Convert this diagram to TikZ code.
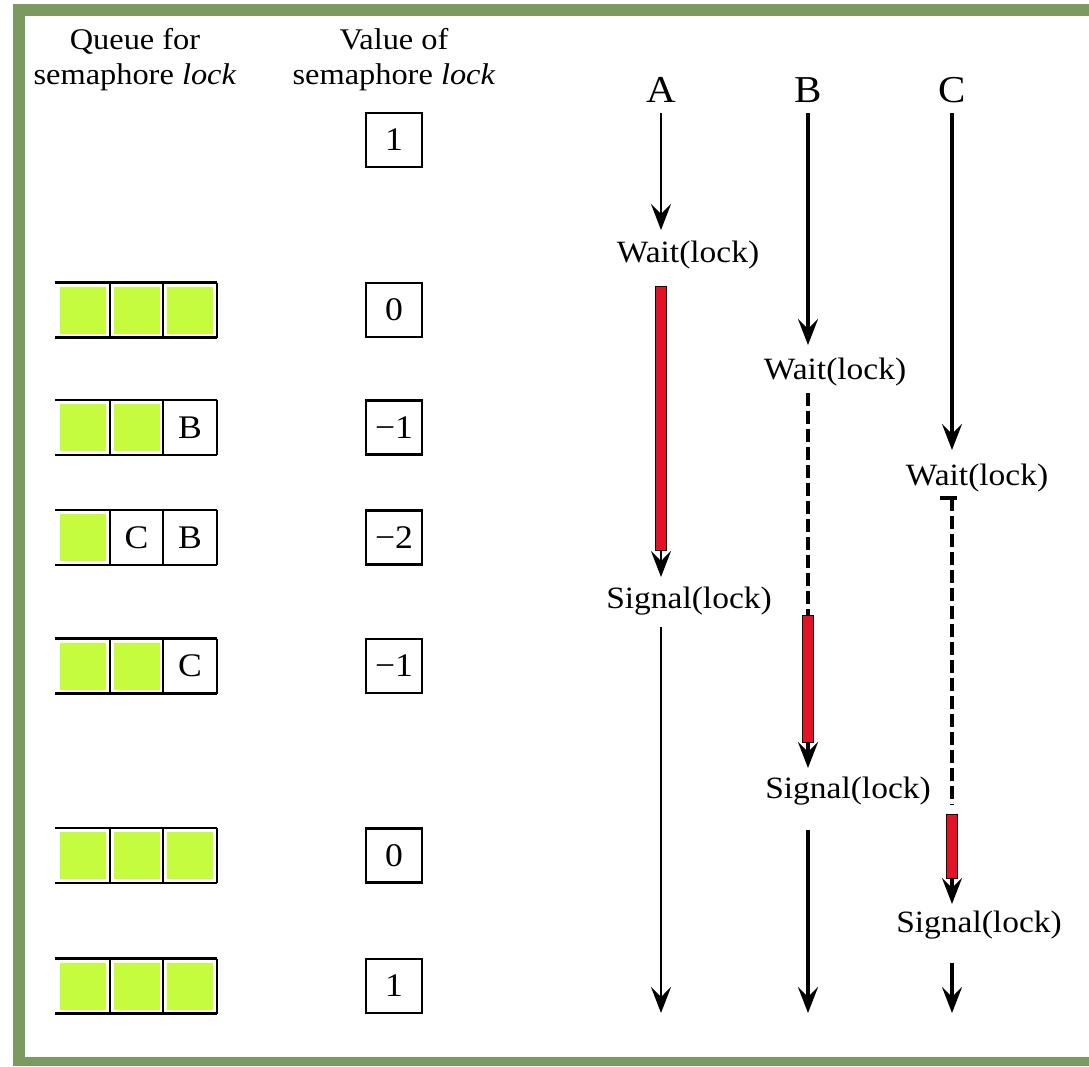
\documentclass[tikz,border=0pt]{standalone}
\usepackage{fontspec}
\setmainfont{Liberation Serif}[FakeStretch=1.08]
\usetikzlibrary{arrows.meta}
\definecolor{framegreen}{RGB}{122,154,96}
\definecolor{lime}{RGB}{198,252,62}
\definecolor{barred}{RGB}{228,18,38}
\tikzset{
  txt/.style={font=\fontsize{31}{32}\selectfont, inner sep=0pt},
  head/.style={font=\fontsize{30}{35}\selectfont, inner sep=0pt, align=center},
  proc/.style={font=\fontsize{38}{40}\selectfont, inner sep=0pt},
  valbox/.style={draw, line width=2.4pt, minimum width=56pt, minimum height=54pt, inner sep=0pt, font=\fontsize{33}{35}\selectfont},
  gcell/.style={fill=lime, minimum width=46pt, minimum height=47pt, inner sep=0pt},
  lcell/.style={inner sep=0pt, font=\fontsize{33}{35}\selectfont},
  qline/.style={line width=2.4pt},
  tip/.style={-{Stealth[length=26pt,width=20pt,inset=10pt]}},
  lineA/.style={line width=2.8pt},
  lineB/.style={line width=4pt},
  lineC/.style={line width=3.2pt},
  dashB/.style={line width=4pt, dash pattern=on 13pt off 5pt},
  dashC/.style={line width=3.4pt, dash pattern=on 13pt off 5pt},
  redbar/.style={fill=barred, draw=black, line width=1pt},
}
\newcommand\qframe[1]{%
  \draw[qline] (55,#1-27.5) -- (217,#1-27.5) (55,#1+27.5) -- (217,#1+27.5)
    (110,#1-27.5) -- (110,#1+27.5) (163,#1-27.5) -- (163,#1+27.5) (217,#1-27.5) -- (217,#1+27.5);}
\begin{document}
\begin{tikzpicture}[x=1pt,y=-1pt]
\useasboundingbox (0,0) rectangle (1089,1066);
% frame
\fill[framegreen] (13,4) rectangle (1089,16);
\fill[framegreen] (13,4) rectangle (25,1066);
\fill[framegreen] (13,1057) rectangle (1089,1066);

% headers
\node[head] (hq) at (135,60) {Queue for\\semaphore \textit{lock}};
\node[head] (hv) at (394,60) {Value of\\semaphore \textit{lock}};

% value boxes
\node[valbox] (v1) at (394,140) {1};
\node[valbox] (v2) at (394,310) {0};
\node[valbox] (v3) at (394,427.5) {−1};
\node[valbox] (v4) at (394,537.5) {−2};
\node[valbox] (v5) at (394,666) {−1};
\node[valbox] (v6) at (394,855.5) {0};
\node[valbox] (v7) at (394,986) {1};

% queues
\qframe{310}
\node[gcell] (q1a) at (82.5,310) {};
\node[gcell] (q1b) at (136.5,310) {};
\node[gcell] (q1c) at (190,310) {};
\qframe{427.5}
\node[gcell] (q2a) at (82.5,427.5) {};
\node[gcell] (q2b) at (136.5,427.5) {};
\node[lcell] (q2c) at (190,427.5) {B};
\qframe{537.5}
\node[gcell] (q3a) at (82.5,537.5) {};
\node[lcell] (q3b) at (136.5,537.5) {C};
\node[lcell] (q3c) at (190,537.5) {B};
\qframe{666}
\node[gcell] (q4a) at (82.5,666) {};
\node[gcell] (q4b) at (136.5,666) {};
\node[lcell] (q4c) at (190,666) {C};
\qframe{855.5}
\node[gcell] (q5a) at (82.5,855.5) {};
\node[gcell] (q5b) at (136.5,855.5) {};
\node[gcell] (q5c) at (190,855.5) {};
\qframe{986}
\node[gcell] (q6a) at (82.5,986) {};
\node[gcell] (q6b) at (136.5,986) {};
\node[gcell] (q6c) at (190,986) {};

% process labels
\node[proc] (pA) at (661,90) {A};
\node[proc] (pB) at (808,90) {B};
\node[proc] (pC) at (952,90) {C};

% event labels
\node[txt] (wA) at (688,255) {Wait(lock)};
\node[txt] (sA) at (689,601) {Signal(lock)};
\node[txt] (wB) at (835,372) {Wait(lock)};
\node[txt] (sB) at (848,791) {Signal(lock)};
\node[txt] (wC) at (977,478) {Wait(lock)};
\node[txt] (sC) at (979,925) {Signal(lock)};

% coordinates
\coordinate (a1) at (661,113); \coordinate (a2) at (661,230);
\coordinate (a3) at (661,286); \coordinate (a4) at (661,550); \coordinate (a5) at (661,577);
\coordinate (a6) at (661,627); \coordinate (a7) at (661,1013);
\coordinate (b1) at (808,113); \coordinate (b2) at (808,345);
\coordinate (b3) at (808,393); \coordinate (b4) at (808,615); \coordinate (b5) at (808,742); \coordinate (b6) at (808,768);
\coordinate (b7) at (808,830); \coordinate (b8) at (808,1013);
\coordinate (c1) at (952,113); \coordinate (c2) at (952,450);
\coordinate (c3) at (952,498); \coordinate (c4) at (952,805); \coordinate (c5) at (952,814); \coordinate (c6) at (952,878); \coordinate (c7) at (952,904);
\coordinate (c8) at (952,963); \coordinate (c9) at (952,1013);

% A
\draw[lineA,tip] (a1) -- (a2);
\draw[redbar] ([xshift=-5.5pt]a3) rectangle ([xshift=5.5pt]a4);
\draw[lineA,tip] (a4) -- (a5);
\draw[lineA,tip] (a6) -- (a7);
% B
\draw[lineB,tip] (b1) -- (b2);
\draw[dashB] (b3) -- (b4);
\draw[redbar] ([xshift=-5.5pt]b4) rectangle ([xshift=5.5pt]b5);
\draw[lineB,tip] (b5) -- (b6);
\draw[lineB,tip] (b7) -- (b8);
% C
\draw[lineC,tip] (c1) -- (c2);
\draw[lineC] ([xshift=-12pt]c3) -- ([xshift=5pt]c3);
\draw[dashC] (c3) -- (c4);
\draw[redbar] ([xshift=-5.5pt]c5) rectangle ([xshift=5.5pt]c6);
\draw[lineC,tip] (c6) -- (c7);
\draw[lineC,tip] (c8) -- (c9);
\end{tikzpicture}
\end{document}
